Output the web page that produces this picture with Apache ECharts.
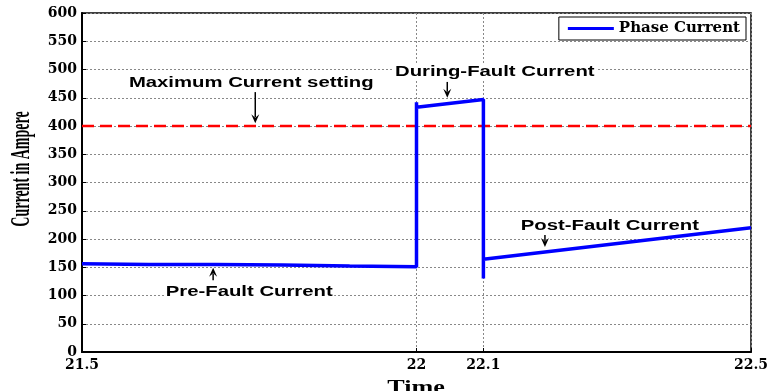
<!DOCTYPE html>
<html><head><meta charset="utf-8">
<script src="https://cdn.jsdelivr.net/npm/echarts@6/dist/echarts.min.js"></script>
<style>html,body{margin:0;padding:0;background:#fff}#c{width:772px;height:391px}</style>
</head><body><div id="c"></div>
<script>
// ---- data ----
const phaseTime    = [21.5, 21.6, 21.7, 21.8, 21.9, 22.0, 22.0, 22.0, 22.1, 22.1, 22.1, 22.5];
const phaseCurrent = [156,  155,  155,  154,  152,  151,  442,  433,  447,  130,  164,  220];
const settingTime    = [21.5, 22.5];
const settingCurrent = [400, 400];
const xTickValues = [21.5, 22, 22.1, 22.5];
const yMin = 0, yMax = 600, yStep = 50;
const annotationText = ['Maximum Current setting', 'During-Fault Current', 'Post-Fault Current', 'Pre-Fault Current'];
const annotationAt   = [[21.753, 476], [22.117, 496], [22.289, 223], [21.750, 106]];
const arrowFrom      = [[21.759, 460], [22.046, 478], [22.192, 207], [21.696, 127]];
const arrowTo        = [[21.759, 405], [22.046, 450], [22.192, 186], [21.696, 149]];

const chart = echarts.init(document.getElementById('c'), null, {renderer: 'canvas'});
const serifBold = {fontFamily: '"DejaVu Serif"', fontWeight: 'bold', fontSize: 14, color: '#000'};
const grid = {left: 82, right: 21, top: 13, bottom: 39, show: true, borderColor: '#000', borderWidth: 1.5};
const option = {
  animation: false,
  backgroundColor: '#fff',
  grid: grid,
  legend: {
    data: [{name: 'Phase Current', icon: 'rect'}], right: 26, top: 17,
    borderColor: '#000', borderWidth: 1, backgroundColor: '#fff',
    padding: [4, 6, 4, 9], itemWidth: 46, itemHeight: 3, itemGap: 5,
    textStyle: {fontFamily: '"DejaVu Serif"', fontWeight: 'bold', fontSize: 15, color: '#000'}
  },
  xAxis: {
    type: 'value', min: xTickValues[0], max: xTickValues[xTickValues.length - 1],
    axisLine: {lineStyle: {color: '#000', width: 2}},
    axisTick: {inside: true, length: 4, customValues: xTickValues, lineStyle: {color: '#000'}},
    axisLabel: Object.assign({customValues: xTickValues, margin: 6, formatter: v => String(v)}, serifBold),
    splitLine: {show: true, lineStyle: {color: '#888', type: [2, 2], width: 1}}
  },
  yAxis: {
    type: 'value', min: yMin, max: yMax, interval: yStep,
    axisLine: {show: true, lineStyle: {color: '#000', width: 2}},
    axisTick: {show: true, inside: true, length: 4, lineStyle: {color: '#000'}},
    axisLabel: Object.assign({margin: 5}, serifBold),
    splitLine: {show: true, lineStyle: {color: '#888', type: [2, 2], width: 1}}
  },
  series: [
    {
      name: 'Maximum Current setting', type: 'line', symbol: 'none', z: 3,
      data: settingTime.map((t, i) => [t, settingCurrent[i]]),
      lineStyle: {color: '#ff0000', width: 2.5, type: [12, 6]}, itemStyle: {color: '#ff0000'}
    },
    {
      name: 'Phase Current', type: 'line', symbol: 'none', z: 4,
      data: phaseTime.map((t, i) => [t, phaseCurrent[i]]),
      lineStyle: {color: '#0000ff', width: 3.5}, itemStyle: {color: '#0000ff'}
    }
  ]
};
chart.setOption(option);

function px(p) { return chart.convertToPixel({gridIndex: 0}, p); }
const graphics = [];
annotationText.forEach((txt, i) => {
  const c = px(annotationAt[i]);
  const a = px(arrowFrom[i]), b = px(arrowTo[i]);
  const dx = b[0] - a[0], dy = b[1] - a[1], L = Math.hypot(dx, dy) || 1;
  const ux = dx / L, uy = dy / L, nx = -uy, ny = ux;
  const hl = 9, hw = 4;
  const base = [b[0] - ux * hl, b[1] - uy * hl];
  graphics.push({
    type: 'line', z: 2, shape: {x1: a[0], y1: a[1], x2: base[0] + ux * 3, y2: base[1] + uy * 3},
    style: {stroke: '#000', lineWidth: 1.5}
  });
  graphics.push({
    type: 'polygon', z: 2,
    shape: {points: [b, [base[0] + nx * hw, base[1] + ny * hw], [b[0] - ux * hl * 0.6, b[1] - uy * hl * 0.6], [base[0] - nx * hw, base[1] - ny * hw]]},
    style: {fill: '#000'}
  });
  graphics.push({
    type: 'text', z: 2, x: c[0], y: c[1], scaleX: 1.45,
    style: {text: txt, font: 'bold 14px "Liberation Sans"', fill: '#000', align: 'center', verticalAlign: 'middle',
            backgroundColor: '#fff', padding: [1, 1]}
  });
});
// axis titles
graphics.push({
  type: 'text', z: 10, x: 22, y: 169, rotation: Math.PI / 2, scaleY: 1.9,
  style: {text: 'Current in Ampere', font: 'bold 14px "Liberation Serif"', fill: '#000', align: 'center', verticalAlign: 'middle'}
});
graphics.push({
  type: 'text', z: 10, x: 416, y: 388, scaleX: 1.45,
  style: {text: 'Time', font: 'bold 18px "Liberation Serif"', fill: '#000', align: 'center', verticalAlign: 'middle'}
});
chart.setOption({graphic: graphics});
</script>
</body></html>
